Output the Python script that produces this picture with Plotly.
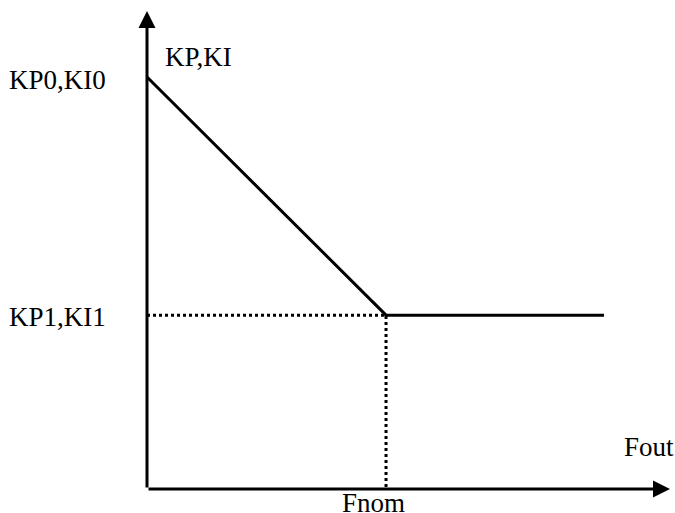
"""KP/KI gain schedule against output frequency (piecewise linear)."""
import plotly.graph_objects as go

# schedule in normalised units: Fout (Fnom = 1), gain (KP0 = 1)
fout = [0.0, 1.0, 1.912]
gain = [1.0, 0.422, 0.422]
FNOM = 1.0
KP0 = 1.0
KP1 = 0.422

# axis extents (arrow tips)
X_END = 2.188
Y_END = 1.16

FONT = dict(family="Liberation Serif, Times New Roman, serif", size=27, color="black")

fig = go.Figure()

# guide lines (dotted)
fig.add_scatter(x=[0, FNOM, FNOM], y=[KP1, KP1, 0], mode="lines",
                line=dict(color="black", width=3, dash="dot"),
                hoverinfo="skip", showlegend=False)
# gain curve
fig.add_scatter(x=fout, y=gain, mode="lines",
                line=dict(color="black", width=3),
                hoverinfo="skip", showlegend=False)

# axes with arrow heads
for tip_x, tip_y in [(X_END, 0), (0, Y_END)]:
    fig.add_annotation(x=tip_x, y=tip_y, ax=0, ay=0, xref="x", yref="y",
                       axref="x", ayref="y", text="", showarrow=True,
                       arrowhead=2, arrowsize=1.13, arrowwidth=3,
                       arrowcolor="black", standoff=0, startstandoff=0)

labels = [
    dict(text="KP0,KI0", x=-0.163, y=KP0, xanchor="right", yshift=-3),
    dict(text="KP1,KI1", x=-0.163, y=KP1, xanchor="right", yshift=-2),
    dict(text="KP,KI", x=0.067, y=1.049, xanchor="left"),
    dict(text="Fout", x=1.987, y=0.102, xanchor="left"),
    dict(text="Fnom", x=0.946, y=-0.034, xanchor="center"),
]
for lab in labels:
    fig.add_annotation(showarrow=False, xref="x", yref="y",
                       yanchor="middle", font=FONT, **lab)

fig.update_layout(
    width=675, height=513,
    margin=dict(l=0, r=0, t=0, b=0),
    plot_bgcolor="white", paper_bgcolor="white",
    xaxis=dict(visible=False, range=[-0.615, 2.209], fixedrange=True),
    yaxis=dict(visible=False, range=[-0.0583, 1.187], fixedrange=True),
    showlegend=False,
)
# drop the default 8px body margin so the figure fills the window exactly
fig.write_html("out.html",
               config={"displayModeBar": False},
               post_script="document.body.style.margin='0';"
                           "document.body.style.overflow='hidden';")
